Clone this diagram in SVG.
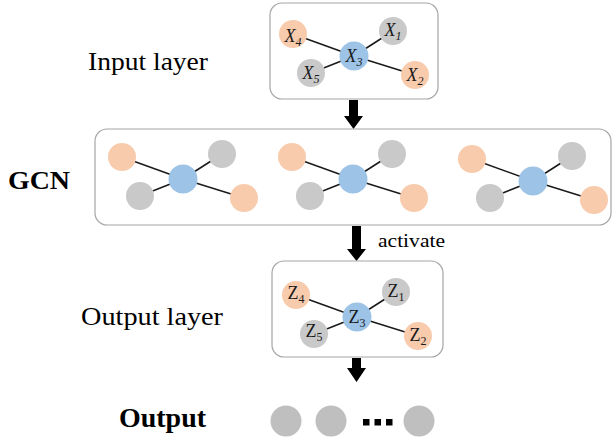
<svg xmlns="http://www.w3.org/2000/svg" width="614" height="441" viewBox="0 0 614 441">
  <style>
    .panel { fill: #ffffff; stroke: #a6a6a6; stroke-width: 1.2; }
    .edge { stroke: #1a1a1a; stroke-width: 1.5; }
    .orange { fill: #f8cbad; }
    .gray { fill: #c9c9c9; }
    .blue { fill: #9dc3e6; }
    .out { fill: #bfbfbf; }
    .arrow { fill: #000000; }
    .label { font-family: "Liberation Serif", "Times New Roman", serif; fill: #000000; }
    .bold { font-weight: bold; }
    .var { font-family: "Liberation Serif", "Times New Roman", serif; font-size: 18px; fill: #1a1a1a; text-anchor: middle; }
    .it { font-style: italic; }
    .sub { font-size: 12px; }
  </style>
  <defs>
    <!-- small star graph: centre node 3 linked to nodes 1, 2, 4, 5 -->
    <g id="star">
      <line class="edge" x1="-61" y1="-22" x2="0" y2="0"/>
      <line class="edge" x1="39" y1="-25" x2="0" y2="0"/>
      <line class="edge" x1="-43" y1="17" x2="0" y2="0"/>
      <line class="edge" x1="61" y1="19" x2="0" y2="0"/>
      <circle class="orange" cx="-61" cy="-22" r="14"/>
      <circle class="gray" cx="39" cy="-25" r="14"/>
      <circle class="gray" cx="-43" cy="17" r="14"/>
      <circle class="orange" cx="61" cy="19" r="14"/>
      <circle class="blue" cx="0" cy="0" r="14.5"/>
    </g>
  </defs>

  <!-- row labels -->
  <text class="label" x="88" y="70" font-size="25" textLength="120" lengthAdjust="spacingAndGlyphs">Input layer</text>
  <text class="label bold" x="8" y="189" font-size="26" textLength="62" lengthAdjust="spacingAndGlyphs">GCN</text>
  <text class="label" x="81" y="325" font-size="26" textLength="142" lengthAdjust="spacingAndGlyphs">Output layer</text>
  <text class="label bold" x="119" y="427" font-size="27" textLength="87" lengthAdjust="spacingAndGlyphs">Output</text>

  <!-- connectors between layers -->
  <g id="connectors">
    <polygon class="arrow" points="349,100 358,100 358,116 363,116 353.5,129 344,116 349,116"/>
    <polygon class="arrow" points="352,226 361,226 361,249 366,249 356.5,261 347,249 352,249"/>
    <polygon class="arrow" points="352,358 361,358 361,368 366,368 356.5,382 347,368 352,368"/>
    <text class="label" x="378" y="247" font-size="19" textLength="67" lengthAdjust="spacingAndGlyphs">activate</text>
  </g>

  <!-- input layer -->
  <g id="input-layer">
    <rect class="panel" x="270" y="3" width="168" height="96" rx="12"/>
    <g transform="translate(354,56)"><use href="#star"/></g>
    <text class="var it" x="293" y="42">X<tspan class="sub" dy="4">4</tspan></text>
    <text class="var it" x="393" y="36">X<tspan class="sub" dy="4">1</tspan></text>
    <text class="var it" x="354" y="62">X<tspan class="sub" dy="4">3</tspan></text>
    <text class="var it" x="311" y="79">X<tspan class="sub" dy="4">5</tspan></text>
    <text class="var it" x="415" y="81">X<tspan class="sub" dy="4">2</tspan></text>
  </g>

  <!-- GCN layer -->
  <g id="gcn">
    <rect class="panel" x="95" y="129" width="516" height="96" rx="12"/>
    <g transform="translate(183,179)"><use href="#star"/></g>
    <g transform="translate(353,179)"><use href="#star"/></g>
    <g transform="translate(533,181)"><use href="#star"/></g>
  </g>

  <!-- output layer -->
  <g id="output-layer">
    <rect class="panel" x="272" y="261" width="171" height="96" rx="12"/>
    <g transform="translate(357,317)"><use href="#star"/></g>
    <text class="var" x="296" y="299">Z<tspan class="sub" dy="4">4</tspan></text>
    <text class="var" x="396" y="297">Z<tspan class="sub" dy="4">1</tspan></text>
    <text class="var" x="357" y="323">Z<tspan class="sub" dy="4">3</tspan></text>
    <text class="var" x="314" y="337">Z<tspan class="sub" dy="4">5</tspan></text>
    <text class="var" x="418" y="341">Z<tspan class="sub" dy="4">2</tspan></text>
  </g>

  <!-- output nodes -->
  <g id="output">
    <circle class="out" cx="286" cy="421" r="15.5"/>
    <circle class="out" cx="331" cy="421" r="15.5"/>
    <rect x="363" y="419" width="6.5" height="6.5"/>
    <rect x="374.5" y="419" width="6.5" height="6.5"/>
    <rect x="386" y="419" width="6.5" height="6.5"/>
    <circle class="out" cx="419" cy="421" r="15.5"/>
  </g>
</svg>
